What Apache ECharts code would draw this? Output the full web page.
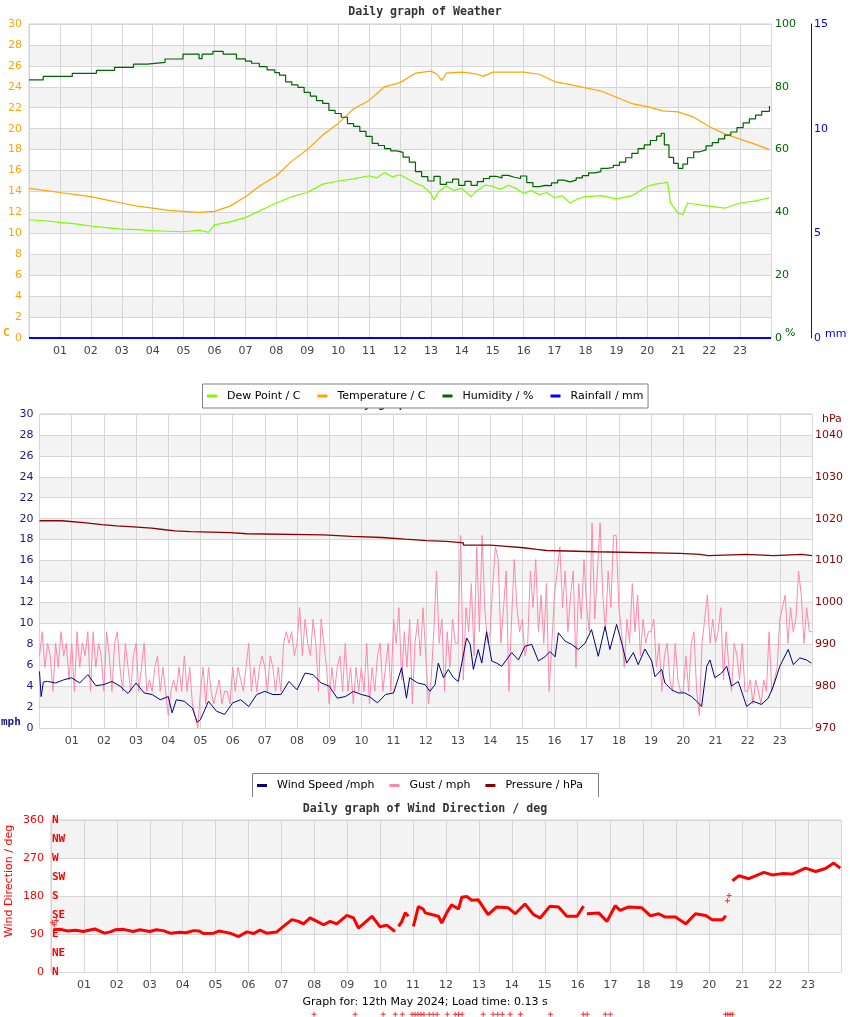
<!DOCTYPE html>
<html><head><meta charset="utf-8">
<script src="https://cdn.jsdelivr.net/npm/echarts@6/dist/echarts.min.js"></script>
<style>html,body{margin:0;padding:0;background:#fff}#c{width:850px;height:1017px}</style>
</head><body><div id="c"></div>
<script>
// ---------- Chart 1: weather ----------
const tempHours = [0,0.5,1,1.5,2,2.5,3,3.5,4,4.5,5,5.5,6,6.5,7,7.5,8,8.5,9,9.5,10,10.5,11,11.5,12,12.5,13,13.2,13.35,13.5,14,14.3,14.5,14.7,15,15.5,16,16.5,17,17.5,18,18.5,19,19.5,20,20.5,21,21.5,22,22.5,23,23.5,23.95];
const tempValues = [14.3,14.1,13.9,13.7,13.5,13.2,12.9,12.6,12.4,12.2,12.1,12.0,12.1,12.6,13.5,14.6,15.5,16.9,18.0,19.4,20.5,21.9,22.7,24.0,24.4,25.3,25.5,25.2,24.6,25.3,25.4,25.3,25.2,25.0,25.4,25.4,25.4,25.2,24.5,24.2,23.9,23.6,23.0,22.4,22.1,21.7,21.6,21.1,20.2,19.5,19.0,18.5,18.0];
const dewHours = [0,0.5,1,1.5,2,2.5,3,3.5,4,4.5,5,5.5,5.8,6,6.5,7,7.5,8,8.5,9,9.5,10,10.5,11,11.25,11.5,11.75,12,12.25,12.5,12.75,13,13.1,13.25,13.5,13.75,14,14.3,14.5,14.75,15,15.25,15.5,15.75,16,16.25,16.5,16.75,17,17.25,17.5,17.75,18,18.5,19,19.5,20,20.25,20.5,20.65,20.75,21,21.15,21.3,21.5,22,22.5,23,23.5,23.95];
const dewValues = [11.3,11.2,11.05,10.9,10.7,10.55,10.4,10.35,10.25,10.2,10.15,10.3,10.1,10.8,11.1,11.5,12.2,12.9,13.5,13.9,14.7,15.0,15.2,15.5,15.3,15.8,15.4,15.6,15.2,14.8,14.5,13.8,13.2,14.0,14.5,14.1,14.3,13.5,14.1,14.6,14.5,14.2,14.6,14.3,13.8,14.1,13.7,13.9,13.4,13.6,12.9,13.3,13.5,13.6,13.3,13.6,14.5,14.7,14.8,14.9,12.9,11.9,11.8,12.9,12.8,12.6,12.4,12.9,13.1,13.4];
const humHours = [0,0.46,1.4,2.18,2.77,3.38,3.83,4.4,4.98,5.5,5.6,5.95,6.28,6.71,7.0,7.2,7.45,7.7,7.95,8.1,8.3,8.5,8.7,8.9,9.1,9.3,9.5,9.7,9.9,10.1,10.3,10.5,10.7,10.9,11.1,11.3,11.5,11.7,11.9,12.1,12.3,12.5,12.7,12.9,13.1,13.3,13.5,13.7,13.9,14.1,14.3,14.5,14.7,14.9,15.1,15.3,15.5,15.7,15.9,16.1,16.3,16.5,16.7,16.9,17.1,17.3,17.5,17.7,17.9,18.1,18.3,18.5,18.7,18.9,19.1,19.3,19.5,19.7,19.9,20.1,20.3,20.45,20.55,20.7,20.85,21.0,21.15,21.3,21.5,21.7,21.9,22.1,22.3,22.5,22.7,22.9,23.1,23.3,23.5,23.7,23.95];
const humValues = [82.2,83.3,84.3,85.2,86.2,87.2,87.8,88.85,90.4,88.95,90.4,91.3,90.4,88.9,88.2,87.5,86.4,85.4,84.5,83.7,81.6,80.6,79.8,78.2,77.0,75.6,74.7,72.5,71.5,70.3,68.3,67.4,65.8,64.2,62.0,61.3,60.3,59.6,59.1,57.6,56.0,53.0,51.4,50.0,51.5,48.9,49.6,50.6,48.6,49.9,48.6,49.8,50.8,51.5,51.0,51.8,51.2,50.8,51.6,49.5,48.2,48.6,48.5,49.4,50.3,49.7,50.3,51.0,51.7,52.6,53.0,54.0,54.3,55.0,56.0,57.4,58.8,60.3,61.5,62.9,64.3,65.2,61.5,57.5,55.6,54.0,55.4,57.4,59.3,59.9,61.2,62.2,63.4,64.6,65.6,67.0,68.5,69.8,71.0,72.2,73.9];
const rainHours = [0,2,4,6,8,10,12,14,16,18,20,22,24];
const rainValues = [0,0,0,0,0,0,0,0,0,0,0,0,0];

// ---------- Chart 2: wind / pressure ----------
const windHours = [0,0.05,0.12,0.25,0.5,0.75,1,1.25,1.5,1.75,2,2.25,2.5,2.75,3,3.25,3.5,3.75,4,4.12,4.25,4.5,4.75,4.9,5,5.25,5.5,5.75,6,6.25,6.5,6.75,7,7.25,7.5,7.75,8,8.25,8.5,8.75,9,9.25,9.5,9.75,10,10.25,10.5,10.75,11,11.25,11.4,11.5,11.75,11.98,12.13,12.29,12.39,12.55,12.7,12.86,13.01,13.12,13.27,13.38,13.48,13.63,13.74,13.89,14.05,14.2,14.36,14.67,14.88,15.08,15.29,15.5,15.7,15.86,16.02,16.12,16.33,16.53,16.74,16.95,17.15,17.36,17.57,17.72,17.93,18.09,18.24,18.45,18.6,18.81,19.02,19.12,19.33,19.43,19.64,19.84,20.05,20.26,20.47,20.57,20.73,20.83,20.98,21.19,21.35,21.5,21.71,21.97,22.17,22.43,22.64,22.8,23.0,23.26,23.42,23.62,23.83,23.98];
const windSpeed = [5.4,3.0,4.4,4.45,4.3,4.6,4.8,4.3,5.1,4.05,4.15,4.45,4.0,3.3,4.3,3.35,3.2,2.7,3.0,1.45,2.7,2.55,1.9,0.55,0.8,2.55,1.6,1.3,2.4,2.7,2.05,3.2,3.5,3.2,3.2,4.45,3.65,5.25,5.1,4.3,4.0,2.85,3.0,3.5,3.2,3.0,2.4,3.2,3.35,5.75,2.85,4.8,4.3,4.15,3.5,4.15,6.2,4.8,5.6,4.8,4.45,6.2,8.6,8.0,5.6,7.5,6.2,9.2,6.4,6.2,5.9,7.2,6.5,7.8,8.0,6.4,6.8,7.3,6.8,9.1,8.3,8.0,7.5,8.1,9.4,6.85,9.7,7.5,9.9,8.1,6.2,7.2,6.05,7.55,6.4,4.9,5.6,4.3,3.65,3.35,3.35,3.0,2.4,2.05,5.9,6.5,4.8,5.25,5.9,4.0,4.45,2.05,2.55,2.25,2.85,4.0,5.9,7.5,6.05,6.7,6.5,6.2];
// gust readings every 5 minutes (12 per hour), hour 0 .. hour 24
const gustValues = [
 6.9,9.2,5.8,8.1,6.9,3.5,8.1,5.8,9.2,6.9,8.1,4.6,
 8.1,3.5,9.2,5.8,8.1,6.9,9.2,3.5,9.2,5.8,8.1,6.9,
 3.5,9.2,6.9,3.5,8.1,9.2,5.8,3.5,8.1,5.8,3.5,6.9,
 8.1,3.5,5.8,8.1,3.5,4.6,3.5,5.8,6.9,3.5,5.8,3.5,
 1.2,3.5,4.6,3.5,5.8,3.5,6.9,3.5,5.8,2.3,1.2,0.0,
 3.5,5.8,2.3,5.8,3.5,2.3,3.5,4.6,2.3,3.5,3.5,2.3,
 5.8,3.5,5.8,4.6,3.5,5.8,8.1,3.5,5.8,3.5,5.8,6.9,
 5.8,3.5,6.9,5.8,3.5,5.8,3.5,8.1,9.2,8.1,9.2,6.9,
 8.1,11.5,6.9,10.4,8.1,6.9,10.4,8.1,3.5,10.4,8.1,5.8,
 2.3,5.8,3.5,5.8,6.9,3.5,8.1,3.5,5.8,2.3,5.8,3.5,
 5.8,3.5,8.1,2.3,5.8,3.5,6.9,8.1,3.5,5.8,8.1,3.5,
 10.4,8.1,11.5,4.6,9.2,5.8,10.4,2.3,8.1,10.4,6.9,11.5,
 6.9,2.3,4.6,9.2,15.0,8.1,10.4,3.5,9.2,5.8,10.4,8.1,
 8.1,18.4,4.6,11.5,9.2,13.8,6.9,17.3,9.2,18.4,11.5,8.1,
 9.2,13.8,17.3,16.1,8.1,11.5,15.0,3.5,10.4,16.1,11.5,9.2,
 10.4,6.9,8.1,15.0,11.5,16.1,9.2,12.7,8.1,13.8,3.5,8.1,
 12.7,15.0,17.3,11.5,15.0,9.2,12.7,15.0,5.8,13.8,10.4,16.1,
 11.5,9.2,19.6,10.4,15.0,19.6,12.7,9.2,15.0,11.5,18.4,18.4,
 11.5,9.2,5.8,10.4,8.1,13.8,9.2,12.7,6.9,10.4,8.1,9.2,
 9.2,10.4,5.8,8.1,3.5,6.9,8.1,4.6,3.5,8.1,4.6,3.5,
 3.5,6.9,3.5,8.1,9.2,3.5,1.2,8.1,10.4,12.7,8.1,10.4,
 8.1,9.2,11.5,4.6,9.2,5.8,3.5,8.1,6.9,4.6,8.1,3.5,
 3.5,4.6,2.3,4.6,3.5,2.3,4.6,3.5,9.2,3.5,4.6,5.8,
 10.4,11.5,12.7,8.1,11.5,9.2,10.4,15.0,12.7,8.1,11.5,9.2,
 9.2];
const gustStepHours = 1 / 12;
const pressHours = [0,0.69,1.37,1.94,2.4,2.8,3.49,3.9,4.21,4.7,5.92,6.44,8.82,9.7,10.63,11.36,12.03,12.65,13.17,14.0,14.41,15.04,15.45,15.76,17.31,19.9,20.52,20.78,21.97,22.8,23.68,24];
const pressValues = [1019.5,1019.05,1018.6,1018.3,1018.1,1017.75,1017.35,1017.1,1016.9,1016.65,1016.4,1016.15,1015.75,1015.5,1015.1,1014.75,1014.6,1014.2,1013.7,1013.45,1013.05,1012.65,1012.4,1012.1,1011.7,1011.45,1011.15,1011.45,1011.15,1011.45,1011.15,1011.15];

// ---------- Chart 3: wind direction ----------
const dirHours = [0.07,0.3,0.5,0.75,0.98,1.15,1.33,1.5,1.64,1.8,1.95,2.2,2.5,2.7,3.0,3.2,3.4,3.62,3.92,4.1,4.33,4.5,4.63,4.94,5.1,5.24,5.44,5.7,5.95,6.15,6.35,6.55,6.86,7.06,7.32,7.52,7.67,7.87,8.08,8.28,8.48,8.68,8.99,9.19,9.34,9.55,9.75,10.0,10.2,10.45,10.5,10.56,10.66,10.76,10.86,10.93,11.01,11.16,11.31,11.37,11.77,11.87,12.02,12.17,12.38,12.48,12.63,12.78,12.98,13.28,13.54,13.89,14.1,14.4,14.66,14.86,15.16,15.42,15.67,15.98,16.18,16.23,16.28,16.64,16.89,17.14,17.29,17.55,17.95,18.21,18.46,18.66,18.97,19.28,19.58,19.89,20.09,20.4,20.5,20.6,20.7,20.9,21.2,21.66,21.91,22.21,22.52,22.92,23.23,23.53,23.78,23.98];
const dirValues = [100,101,97,99,96,99,102,96,92,95,100,101,96,100,96,100,98,92,94,93,98,97,91,92,97,95,92,84,95,91,99,92,95,108,124,120,114,128,120,112,120,114,134,128,104,118,132,107,111,96,null,108,120,140,132,null,108,155,149,140,132,116,140,159,149,177,179,170,171,136,154,152,138,161,136,128,156,154,132,132,156,null,138,140,120,157,146,154,152,133,138,130,130,114,138,134,124,124,133,null,216,228,221,236,230,233,232,246,238,245,258,246];
const dirLooseHours = [0.04,0.1,0.16,20.55,20.6];
const dirLooseValues = [118,112,122,169,181];
// readings drawn below the plot (calm)
const calmHours = [7.99,9.24,10.09,10.46,10.67,10.97,11.06,11.15,11.24,11.33,11.49,11.61,11.73,12.04,12.28,12.38,12.49,13.13,13.43,13.57,13.71,13.95,14.26,15.17,16.17,16.29,16.84,16.99,20.49,20.56,20.63,20.7];
const calmValue = -100;

const hourLabels = ['01','02','03','04','05','06','07','08','09','10','11','12','13','14','15','16','17','18','19','20','21','22','23'];

function zip(h, v) { return h.map((x, i) => [x, v[i]]); }
const gustData = gustValues.map((v, i) => [i * gustStepHours, v]);

const F = 'DejaVu Sans';
const M = 'DejaVu Sans Mono';
const GRID = '#d6d6d6';
const BAND = ['#ffffff', '#f3f3f3'];

function xAx(gi) {
  return {
    type: 'value', gridIndex: gi, min: 0, max: 24, interval: 1,
    axisLine: { show: false }, axisTick: { show: false },
    axisLabel: { fontFamily: F, fontSize: 11, color: '#444', margin: 8,
      formatter: v => (v >= 1 && v <= 23) ? hourLabels[v - 1] : '' },
    splitLine: { show: true, lineStyle: { color: GRID, width: 1 } }
  };
}

const chart = echarts.init(document.getElementById('c'));
chart.setOption({
  animation: false,
  backgroundColor: '#fff',
  grid: [
    { left: 29, top: 24, width: 742, height: 314, show: true, borderColor: '#cfcfcf', borderWidth: 1 },
    { left: 39.5, top: 414, width: 772.5, height: 314, show: true, borderColor: '#cfcfcf', borderWidth: 1 },
    { left: 51, top: 820, width: 790, height: 152, show: true, borderColor: '#cfcfcf', borderWidth: 1 }
  ],
  xAxis: [xAx(0), xAx(1), xAx(2)],
  yAxis: [
    { type: 'value', gridIndex: 0, position: 'left', min: 0, max: 30, interval: 2,
      axisLine: { show: false }, axisTick: { show: false },
      axisLabel: { color: '#ffa500', fontFamily: F, fontSize: 11, margin: 7 },
      splitLine: { lineStyle: { color: GRID } },
      splitArea: { show: true, areaStyle: { color: BAND } } },
    { type: 'value', gridIndex: 0, position: 'right', min: 0, max: 100, interval: 20,
      axisLine: { show: false }, axisTick: { show: false },
      axisLabel: { color: '#006400', fontFamily: F, fontSize: 11, margin: 4 },
      splitLine: { show: false } },
    { type: 'value', gridIndex: 0, position: 'right', offset: 40, min: 0, max: 15, interval: 5,
      axisLine: { show: true, lineStyle: { color: '#0000ff', width: 1 } }, axisTick: { show: false },
      axisLabel: { color: '#0000ff', fontFamily: F, fontSize: 11, margin: 3 },
      splitLine: { show: false } },
    { type: 'value', gridIndex: 1, position: 'left', min: 0, max: 30, interval: 2,
      axisLine: { show: false }, axisTick: { show: false },
      axisLabel: { color: '#191980', fontFamily: F, fontSize: 11, margin: 6 },
      splitLine: { lineStyle: { color: GRID } },
      splitArea: { show: true, areaStyle: { color: BAND } } },
    { type: 'value', gridIndex: 1, position: 'right', min: 970, max: 1045, interval: 10,
      axisLine: { show: false }, axisTick: { show: false },
      axisLabel: { color: '#8b0000', fontFamily: F, fontSize: 11, margin: 3, showMaxLabel: false,
        formatter: v => String(v) },
      splitLine: { show: false } },
    { type: 'value', gridIndex: 2, position: 'left', min: 0, max: 360, interval: 90,
      axisLine: { show: false }, axisTick: { show: false },
      axisLabel: { color: '#ff0000', fontFamily: F, fontSize: 11, margin: 7 },
      splitLine: { lineStyle: { color: GRID } },
      splitArea: { show: true, areaStyle: { color: BAND } } },
    { type: 'value', gridIndex: 2, position: 'left', min: 0, max: 360, interval: 45,
      axisLine: { show: false }, axisTick: { show: false },
      axisLabel: { inside: true, margin: 1, color: '#ff0000', fontFamily: M, fontWeight: 'bold', fontSize: 11,
        formatter: v => ({0:'N',45:'NE',90:'E',135:'SE',180:'S',225:'SW',270:'W',315:'NW',360:'N'})[v] },
      splitLine: { show: false } }
  ],
  legend: [
    { data: ['Dew Point / C', 'Temperature / C', 'Humidity / %', 'Rainfall / mm'],
      left: 202.5, top: 384, orient: 'horizontal', icon: 'rect', itemWidth: 10, itemHeight: 3, itemGap: 17,
      padding: [6.5, 4.5, 6.5, 4.5], borderColor: '#808080', borderWidth: 1, backgroundColor: '#fff',
      textStyle: { fontFamily: F, fontSize: 11, color: '#000', padding: [0, 0, 0, 5] }, z: 20 },
    { data: ['Wind Speed /mph', 'Gust / mph', 'Pressure / hPa'],
      left: 252.5, top: 774, orient: 'horizontal', icon: 'rect', itemWidth: 10, itemHeight: 3, itemGap: 15,
      padding: [6, 4.5, 6, 4.5], backgroundColor: '#fff',
      textStyle: { fontFamily: F, fontSize: 11, color: '#000', padding: [0, 0, 0, 5] }, z: 20 }
  ],
  graphic: [
    { type: 'text', left: 'center', top: 6, style: { text: 'Daily graph of Weather', font: 'bold 11.6px "DejaVu Sans Mono"', fill: '#333' } },
    { type: 'text', x: 336, y: 404, z: 1, style: { text: 'Daily graph of Wind', font: 'bold 11.6px "DejaVu Sans Mono"', fill: '#333', verticalAlign: 'middle' } },
    { type: 'text', left: 'center', top: 803, style: { text: 'Daily graph of Wind Direction / deg', font: 'bold 11.6px "DejaVu Sans Mono"', fill: '#333' } },
    { type: 'text', x: 3, y: 333, style: { text: 'C', font: 'bold 11px "DejaVu Sans Mono"', fill: '#ffa500', verticalAlign: 'middle' } },
    { type: 'text', x: 785, y: 333, style: { text: '%', font: '11px "DejaVu Sans"', fill: '#006400', verticalAlign: 'middle' } },
    { type: 'text', x: 825, y: 334, style: { text: 'mm', font: '11px "DejaVu Sans"', fill: '#0000ff', verticalAlign: 'middle' } },
    { type: 'text', x: 1, y: 722, style: { text: 'mph', font: 'bold 11px "DejaVu Sans Mono"', fill: '#191980', verticalAlign: 'middle' } },
    { type: 'text', x: 822, y: 419, style: { text: 'hPa', font: '11px "DejaVu Sans"', fill: '#8b0000', verticalAlign: 'middle' } },
    { type: 'text', x: 9, y: 881, rotation: Math.PI / 2, style: { text: 'Wind Direction / deg', font: '11px "DejaVu Sans"', fill: '#ff0000', align: 'center', verticalAlign: 'middle' } },
    { type: 'polyline', z: 21, shape: { points: [[252.5, 797], [252.5, 773.5], [598.5, 773.5], [598.5, 797]] }, style: { stroke: '#808080', lineWidth: 1, fill: null } },
    { type: 'text', left: 'center', top: 997, style: { text: 'Graph for: 12th May 2024; Load time: 0.13 s', font: '11px "DejaVu Sans"', fill: '#000' } }
  ],
  series: [
    { name: 'Dew Point / C', type: 'line', xAxisIndex: 0, yAxisIndex: 0, data: zip(dewHours, dewValues),
      showSymbol: false, color: '#7cfc00', lineStyle: { width: 1.2 } },
    { name: 'Temperature / C', type: 'line', xAxisIndex: 0, yAxisIndex: 0, data: zip(tempHours, tempValues),
      showSymbol: false, color: '#ffa500', lineStyle: { width: 1.2 } },
    { name: 'Humidity / %', type: 'line', xAxisIndex: 0, yAxisIndex: 1, data: zip(humHours, humValues),
      showSymbol: false, step: 'end', color: '#006400', lineStyle: { width: 1.2 } },
    { name: 'Rainfall / mm', type: 'line', xAxisIndex: 0, yAxisIndex: 2, data: zip(rainHours, rainValues),
      showSymbol: false, color: '#0000ff', lineStyle: { width: 2 } },
    { name: 'Gust / mph', type: 'line', xAxisIndex: 1, yAxisIndex: 3, data: gustData,
      showSymbol: false, color: '#ff88aa', lineStyle: { width: 1 } },
    { name: 'Wind Speed /mph', type: 'line', xAxisIndex: 1, yAxisIndex: 3, data: zip(windHours, windSpeed),
      showSymbol: false, color: '#000080', lineStyle: { width: 1 } },
    { name: 'Pressure / hPa', type: 'line', xAxisIndex: 1, yAxisIndex: 4, data: zip(pressHours, pressValues),
      showSymbol: false, step: 'end', color: '#8b0000', lineStyle: { width: 1.3 } },
    { name: 'Wind Direction', type: 'line', xAxisIndex: 2, yAxisIndex: 5, data: zip(dirHours, dirValues),
      showSymbol: false, connectNulls: false, color: '#ff0000', lineStyle: { width: 3 } },
    { name: 'Wind Direction pts', type: 'scatter', xAxisIndex: 2, yAxisIndex: 5, data: zip(dirLooseHours, dirLooseValues),
      symbol: 'path://M2,0H3V2H5V3H3V5H2V3H0V2H2Z', symbolSize: 5, color: '#ff0000' },
    { name: 'Calm', type: 'scatter', xAxisIndex: 2, yAxisIndex: 5, clip: false,
      data: calmHours.map(h => [h, calmValue]),
      symbol: 'path://M2,0H3V2H5V3H3V5H2V3H0V2H2Z', symbolSize: 5, color: '#ff0000' }
  ]
});
</script></body></html>
